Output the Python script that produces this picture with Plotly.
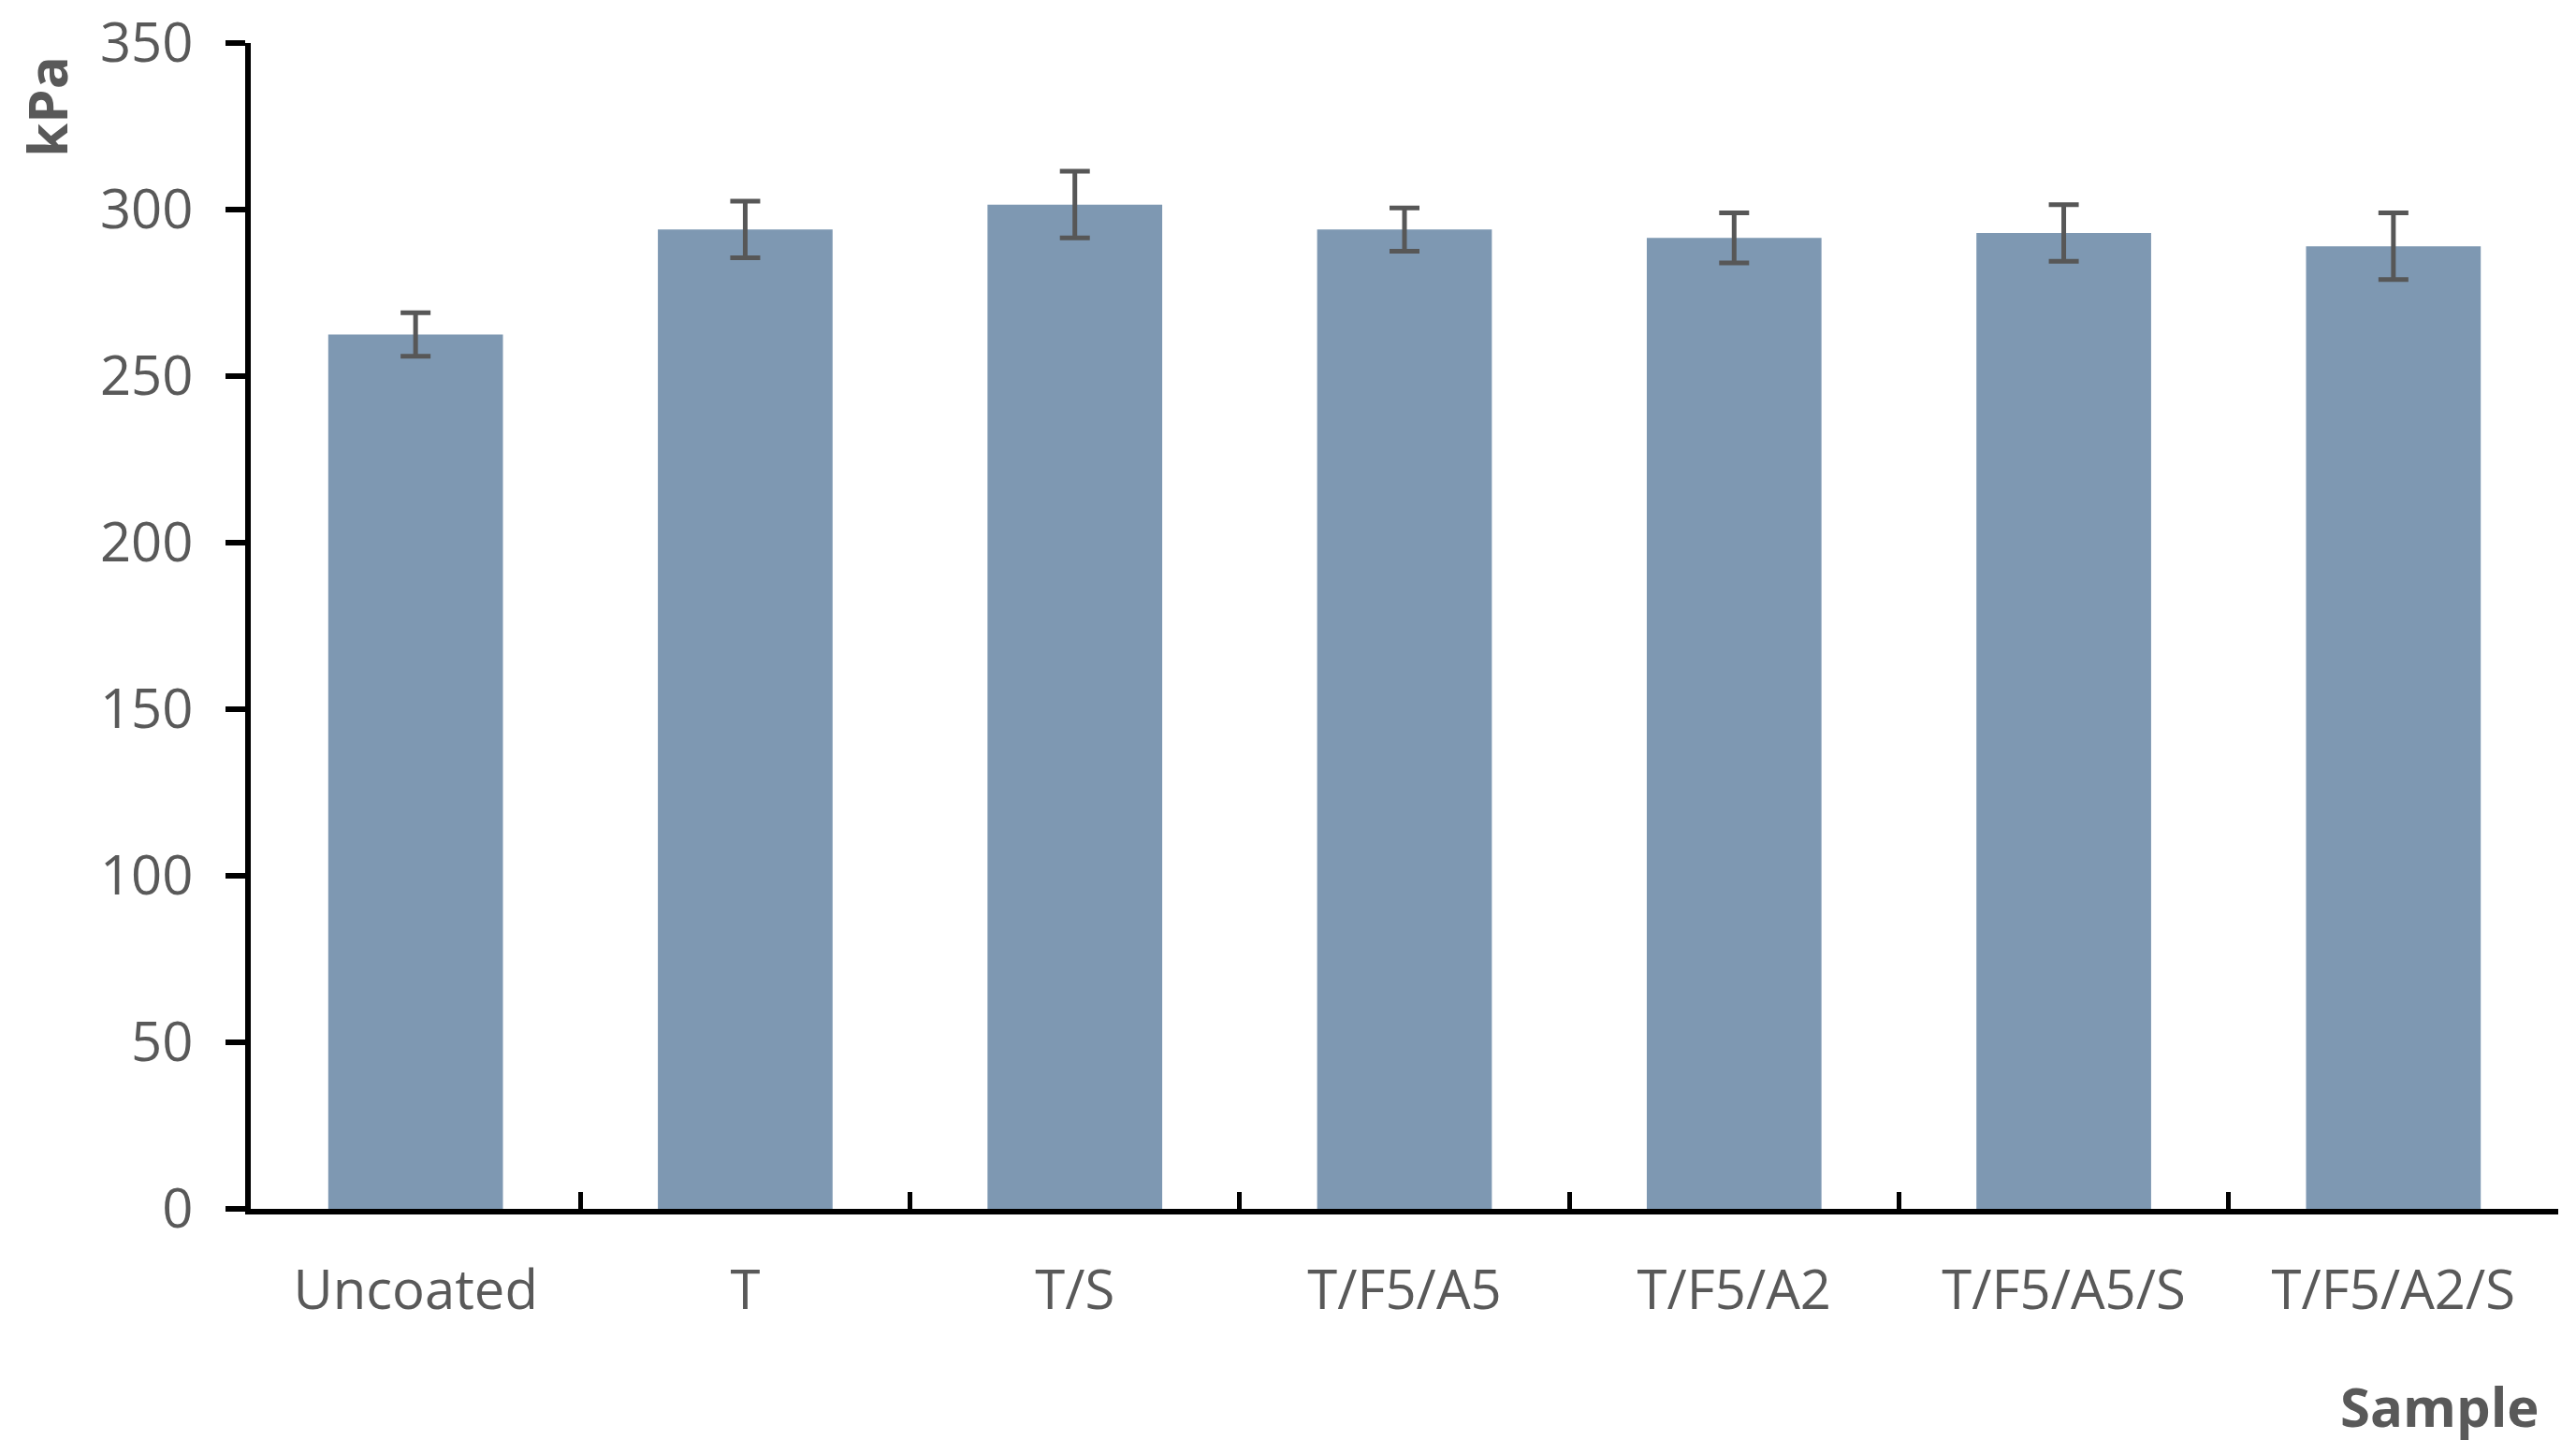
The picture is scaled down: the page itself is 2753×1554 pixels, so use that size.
import plotly.graph_objects as go

samples = ["Uncoated", "T", "T/S", "T/F5/A5", "T/F5/A2", "T/F5/A5/S", "T/F5/A2/S"]
pressure_kpa = [262.5, 294, 301.5, 294, 291.5, 293, 289]
pressure_err = [6.5, 8.5, 10, 6.5, 7.5, 8.5, 10]

y_ticks = [0, 50, 100, 150, 200, 250, 300, 350]

bar_color = "#7e98b2"
text_gray = "#595959"
font_family = "Open Sans, Noto Sans, sans-serif"

fig = go.Figure(go.Bar(
    x=samples, y=pressure_kpa,
    marker_color=bar_color, marker_line_width=0,
    error_y=dict(type="data", array=pressure_err, color="#575757", thickness=5, width=16),
))

# page body adds 8px offset, so margins are shifted to compensate
fig.update_layout(
    width=2753, height=1554,
    paper_bgcolor="white", plot_bgcolor="white",
    margin=dict(l=260, r=27, t=38, b=270),
    bargap=0.47, showlegend=False,
    font=dict(family=font_family, size=58, color=text_gray),
    xaxis=dict(
        showline=True, linecolor="black", linewidth=6,
        ticks="inside", tickson="boundaries", ticklen=18, tickwidth=5, tickcolor="black",
        ticklabelstandoff=31, showgrid=False, automargin=False,
    ),
    yaxis=dict(
        range=[0, 350], tickvals=y_ticks,
        showline=True, linecolor="black", linewidth=6,
        ticks="outside", ticklen=21, tickwidth=6, tickcolor="black",
        ticklabelstandoff=23, ticklabeloverflow="allow",
        showgrid=False, zeroline=False, automargin=False,
    ),
    # second axis only supplies the inward half of the crossing ticks
    yaxis2=dict(
        range=[0, 350], tickvals=y_ticks, overlaying="y", side="left", anchor="x",
        showline=False, ticks="inside", ticklen=21, tickwidth=6, tickcolor="black",
        showticklabels=False, showgrid=False, zeroline=False, automargin=False,
    ),
    annotations=[
        dict(text="<b>kPa</b>", textangle=-90, xref="paper", yref="paper",
             x=-0.0885, y=0.99, xanchor="center", yanchor="top", showarrow=False,
             font=dict(size=58, color=text_gray)),
        dict(text="<b>Sample</b>", xref="paper", yref="paper",
             x=0.9927, y=-0.169, xanchor="right", yanchor="middle", showarrow=False,
             font=dict(size=58, color=text_gray)),
    ],
)

fig.write_html("out.html")
